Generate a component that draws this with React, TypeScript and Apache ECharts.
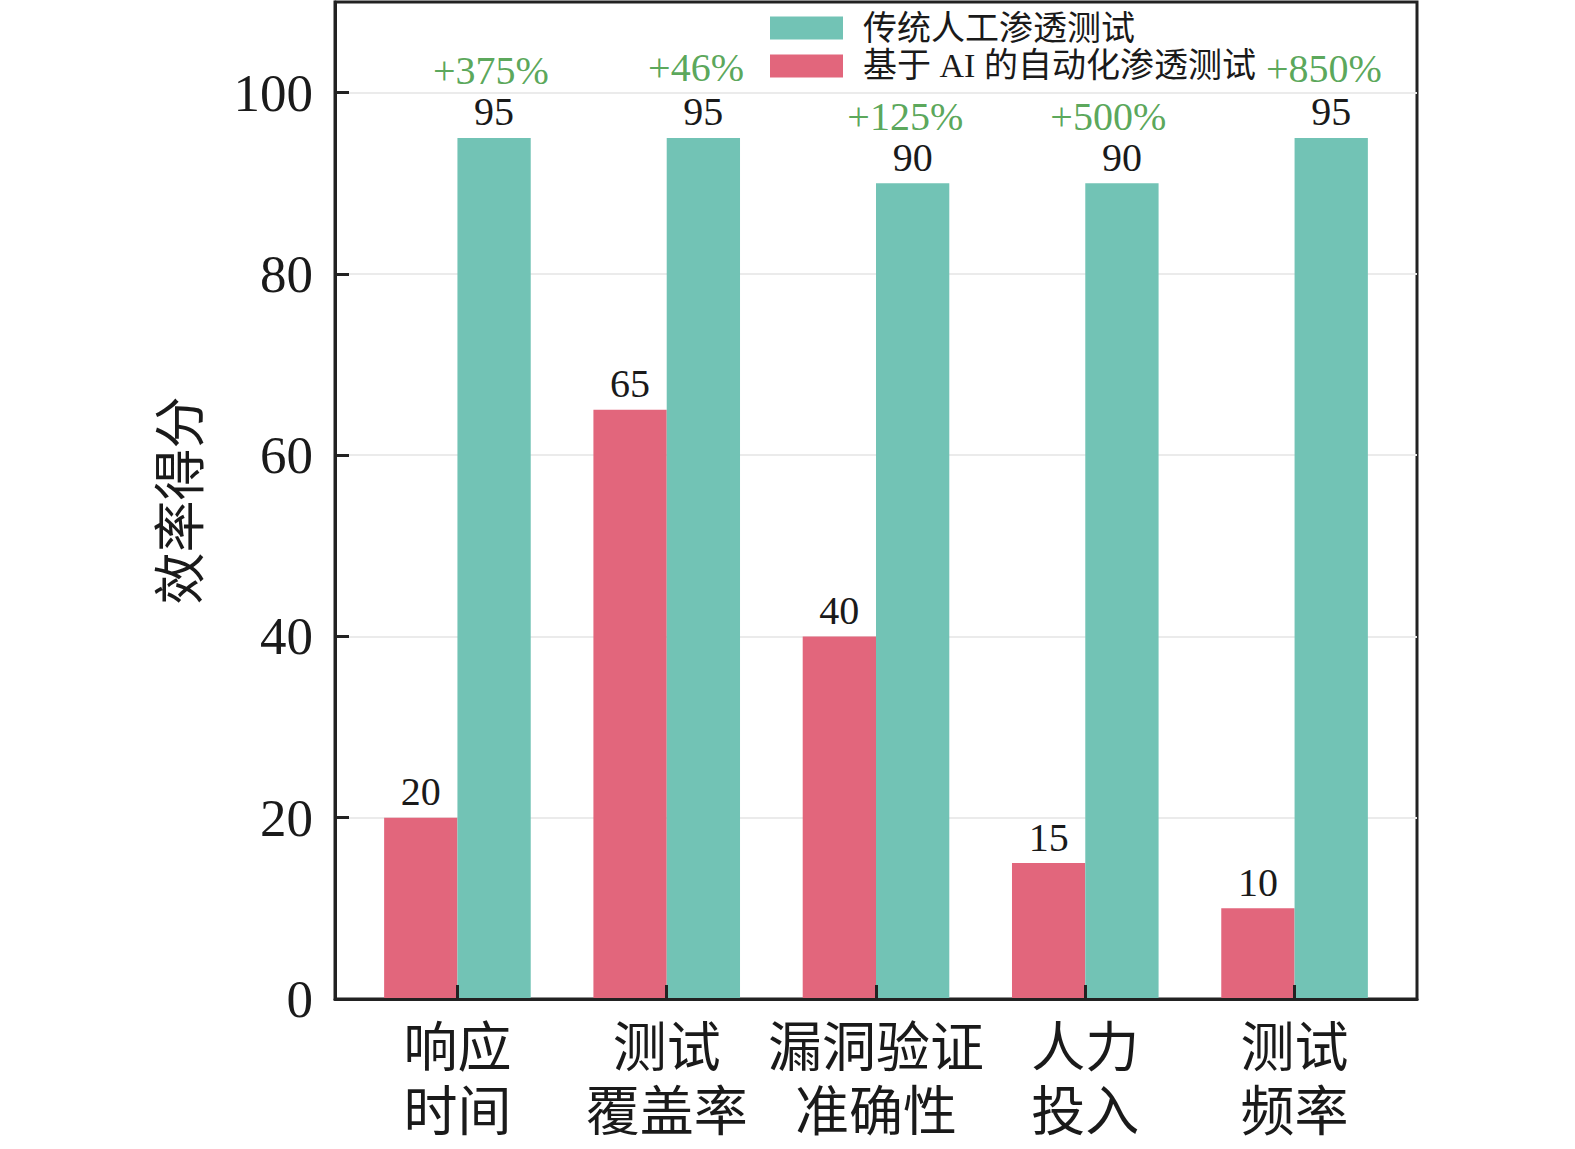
import React, { useEffect, useRef } from 'react';
import * as echarts from 'echarts';

const categories = ['响应\n时间', '测试\n覆盖率', '漏洞验证\n准确性', '人力\n投入', '测试\n频率'];
const seriesNames = ['传统人工渗透测试', '基于 AI 的自动化渗透测试'];
const aiValues = [20, 65, 40, 15, 10];
const traditionalValues = [95, 95, 90, 90, 95];
const improvementLabels = ['+375%', '+46%', '+125%', '+500%', '+850%'];
const improvementXOffset = [0.16, 0.14, 0.14, 0.11, 0.14];
const improvementY = [102.4, 102.8, 97.4, 97.4, 102.7];
const yTicks = [0, 20, 40, 60, 80, 100];
const xTicks = [0, 1, 2, 3, 4];

const FONT = "'Liberation Serif', 'Times New Roman', 'Noto Sans CJK SC', serif";
const INK = '#1a1a1a';
const FRAME = '#222222';
const TEAL = '#72c3b5';
const RED = '#e2667c';
const GREEN = '#2f902f';

export default function App() {
  const ref = useRef<HTMLDivElement>(null);
  useEffect(() => {
    if (!ref.current) return;
    const chart = echarts.init(ref.current, undefined, { renderer: 'svg' });
    const valueLabel = {
      show: true,
      position: 'top',
      distance: 11,
      fontSize: 40,
      lineHeight: 30,
      color: INK,
      fontFamily: FONT,
    };
    const option: any = {
      animation: false,
      backgroundColor: '#ffffff',
      textStyle: { fontFamily: FONT },
      grid: {
        left: 335,
        top: 2,
        width: 1082,
        height: 997,
        show: true,
        borderColor: FRAME,
        borderWidth: 3,
        backgroundColor: 'transparent',
        containLabel: false,
      },
      legend: {
        data: seriesNames,
        orient: 'vertical',
        left: 765,
        top: 6,
        itemWidth: 73,
        itemHeight: 23,
        itemGap: 4,
        icon: 'rect',
        textStyle: { fontSize: 34, color: INK, fontFamily: FONT, padding: [0, 0, 0, 15] },
      },
      xAxis: {
        type: 'value',
        min: -0.585,
        max: 4.585,
        z: 10,
        axisLine: { show: true, onZero: false, lineStyle: { color: FRAME, width: 3 } },
        axisTick: {
          show: true,
          inside: true,
          length: 14,
          customValues: xTicks,
          lineStyle: { color: FRAME, width: 3 },
        },
        axisLabel: {
          customValues: xTicks,
          formatter: (v: number) => categories[Math.round(v)] ?? '',
          fontSize: 54,
          lineHeight: 64,
          margin: 18,
          color: INK,
          fontFamily: FONT,
        },
        splitLine: { show: false },
      },
      yAxis: {
        type: 'value',
        min: 0,
        max: 110,
        interval: 20,
        name: '效率得分',
        nameLocation: 'middle',
        nameRotate: 90,
        nameGap: 128,
        nameTextStyle: { fontSize: 52, color: INK, fontFamily: FONT },
        axisLine: { show: true, onZero: false, lineStyle: { color: FRAME, width: 3 } },
        axisTick: {
          show: true,
          inside: true,
          length: 14,
          customValues: yTicks,
          lineStyle: { color: FRAME, width: 3 },
        },
        axisLabel: {
          customValues: yTicks,
          fontSize: 53,
          margin: 22,
          color: INK,
          fontFamily: FONT,
        },
        splitLine: { show: true, lineStyle: { color: '#ebebeb', width: 2 } },
      },
      series: [
        {
          type: 'bar',
          name: seriesNames[1],
          data: aiValues.map((v, i) => [i, v]),
          barWidth: 73.3,
          barGap: '0%',
          itemStyle: { color: RED },
          label: valueLabel,
        },
        {
          type: 'bar',
          name: seriesNames[0],
          data: traditionalValues.map((v, i) => [i, v]),
          barWidth: 73.3,
          barGap: '0%',
          itemStyle: { color: TEAL },
          label: valueLabel,
        },
        {
          type: 'scatter',
          name: 'improvement',
          silent: true,
          symbolSize: 1,
          itemStyle: { color: 'rgba(0,0,0,0)' },
          data: improvementLabels.map((_, i) => [i + improvementXOffset[i], improvementY[i]]),
          label: {
            show: true,
            position: 'inside',
            formatter: (p: any) => improvementLabels[p.dataIndex],
            fontSize: 40,
            lineHeight: 30,
            color: GREEN,
            fontFamily: FONT,
          },
          z: 5,
        },
      ],
    };
    chart.setOption(option);
    return () => chart.dispose();
  }, []);
  return (
    <div
      ref={ref}
      style={{ position: 'fixed', left: 0, top: 0, width: 1575, height: 1149, background: '#fff' }}
    />
  );
}
